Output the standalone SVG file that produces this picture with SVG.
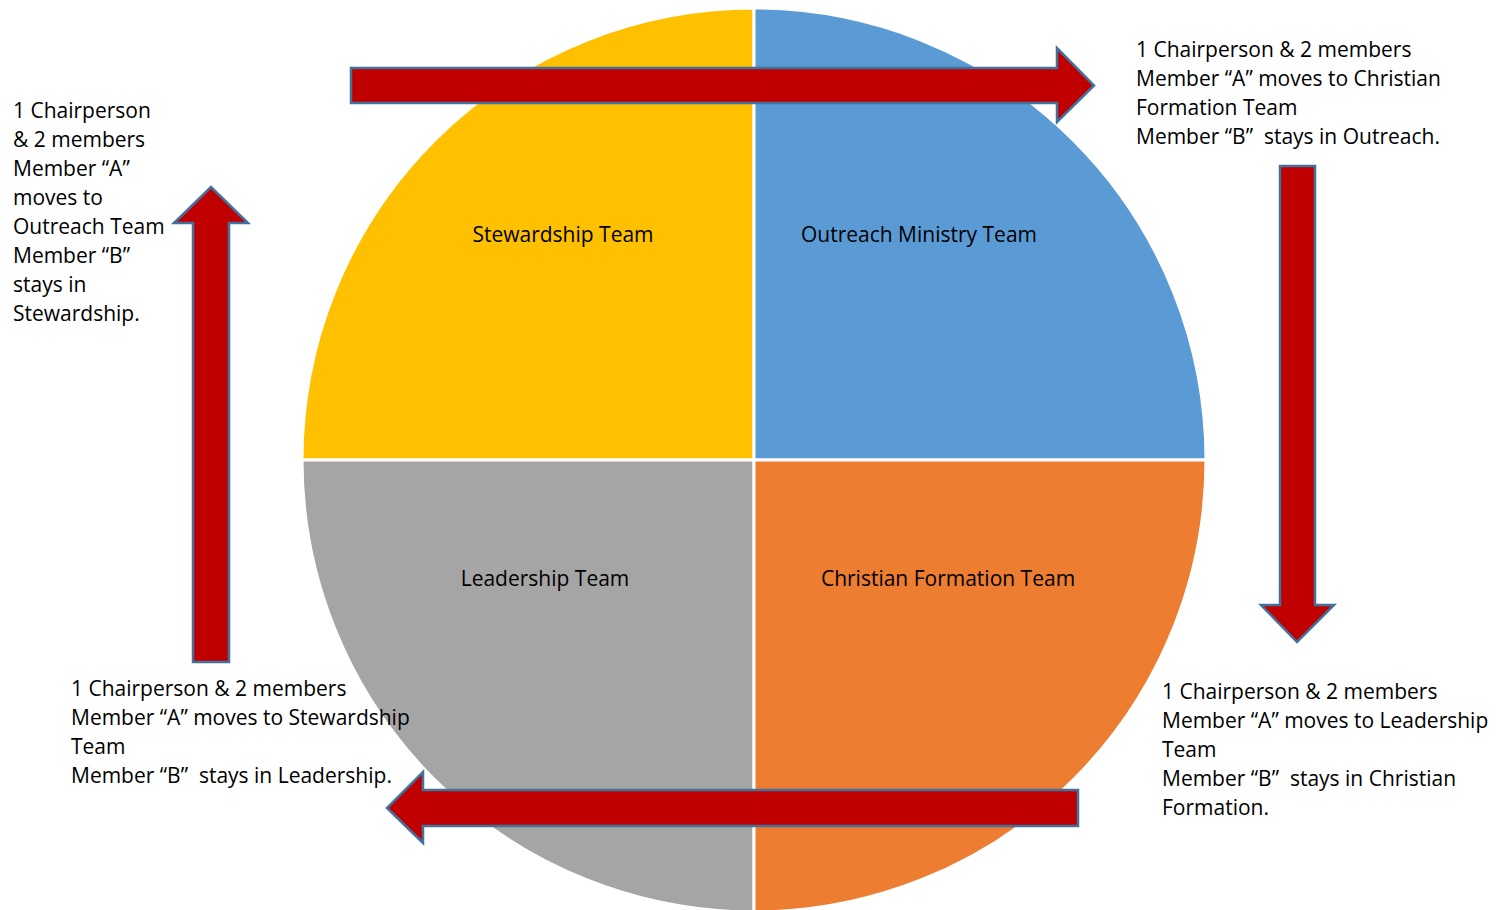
<svg xmlns="http://www.w3.org/2000/svg" width="1509" height="910" viewBox="0 0 1509 910">
<defs>
<style>
text{font-family:"Open Sans","Noto Sans","Liberation Sans",sans-serif;font-size:21px;fill:#000;white-space:pre}
.lbl{text-anchor:middle}
.arrow{fill:#C00000;stroke:#41719C;stroke-width:2.5;stroke-linejoin:miter}
.q{stroke:#fff;stroke-width:3}
</style>
</defs>
<g id="circle">
<g id="stewardship"><path class="q" d="M754,460 L302,460 A452,452 0 0 1 754,8 Z" fill="#FFC000"/><text class="lbl" x="563" y="242">Stewardship Team</text></g>
<g id="outreach"><path class="q" d="M754,460 L754,8 A452,452 0 0 1 1206,460 Z" fill="#5B9BD5"/><text class="lbl" x="919" y="242">Outreach Ministry Team</text></g>
<g id="leadership"><path class="q" d="M754,460 L754,912 A452,452 0 0 1 302,460 Z" fill="#A5A5A5"/><text class="lbl" x="545" y="586">Leadership Team</text></g>
<g id="formation"><path class="q" d="M754,460 L1206,460 A452,452 0 0 1 754,912 Z" fill="#ED7D31"/><text class="lbl" x="948" y="586">Christian Formation Team</text></g>
</g>
<g id="connectors">
<path class="arrow" d="M351,68 L1057,68 L1057,48 L1094,85.5 L1057,122 L1057,103 L351,103 Z"/>
<path class="arrow" d="M1280,166 L1315,166 L1315,605 L1334,605 L1297,642 L1261,605 L1280,605 Z"/>
<path class="arrow" d="M1078,790 L1078,826 L423,826 L423,843 L387,808 L423,772 L423,790 Z"/>
<path class="arrow" d="M193,662 L193,223 L174,223 L211,187 L248,223 L229,223 L229,662 Z"/>
</g>
<g id="note-top-right">
<text x="1136" y="57">1 Chairperson &amp; 2 members</text>
<text x="1136" y="86">Member “A” moves to Christian</text>
<text x="1136" y="115">Formation Team</text>
<text x="1136" y="144">Member “B”  stays in Outreach.</text>
</g>
<g id="note-left">
<text x="13" y="118">1 Chairperson</text>
<text x="13" y="147">&amp; 2 members</text>
<text x="13" y="176">Member “A”</text>
<text x="13" y="205">moves to</text>
<text x="13" y="234">Outreach Team</text>
<text x="13" y="263">Member “B”</text>
<text x="13" y="292">stays in</text>
<text x="13" y="321">Stewardship.</text>
</g>
<g id="note-bottom-left">
<text x="71" y="696">1 Chairperson &amp; 2 members</text>
<text x="71" y="725">Member “A” moves to Stewardship</text>
<text x="71" y="754">Team</text>
<text x="71" y="783">Member “B”  stays in Leadership.</text>
</g>
<g id="note-bottom-right">
<text x="1162" y="699">1 Chairperson &amp; 2 members</text>
<text x="1162" y="728">Member “A” moves to Leadership</text>
<text x="1162" y="757">Team</text>
<text x="1162" y="786">Member “B”  stays in Christian</text>
<text x="1162" y="815">Formation.</text>
</g>
</svg>
